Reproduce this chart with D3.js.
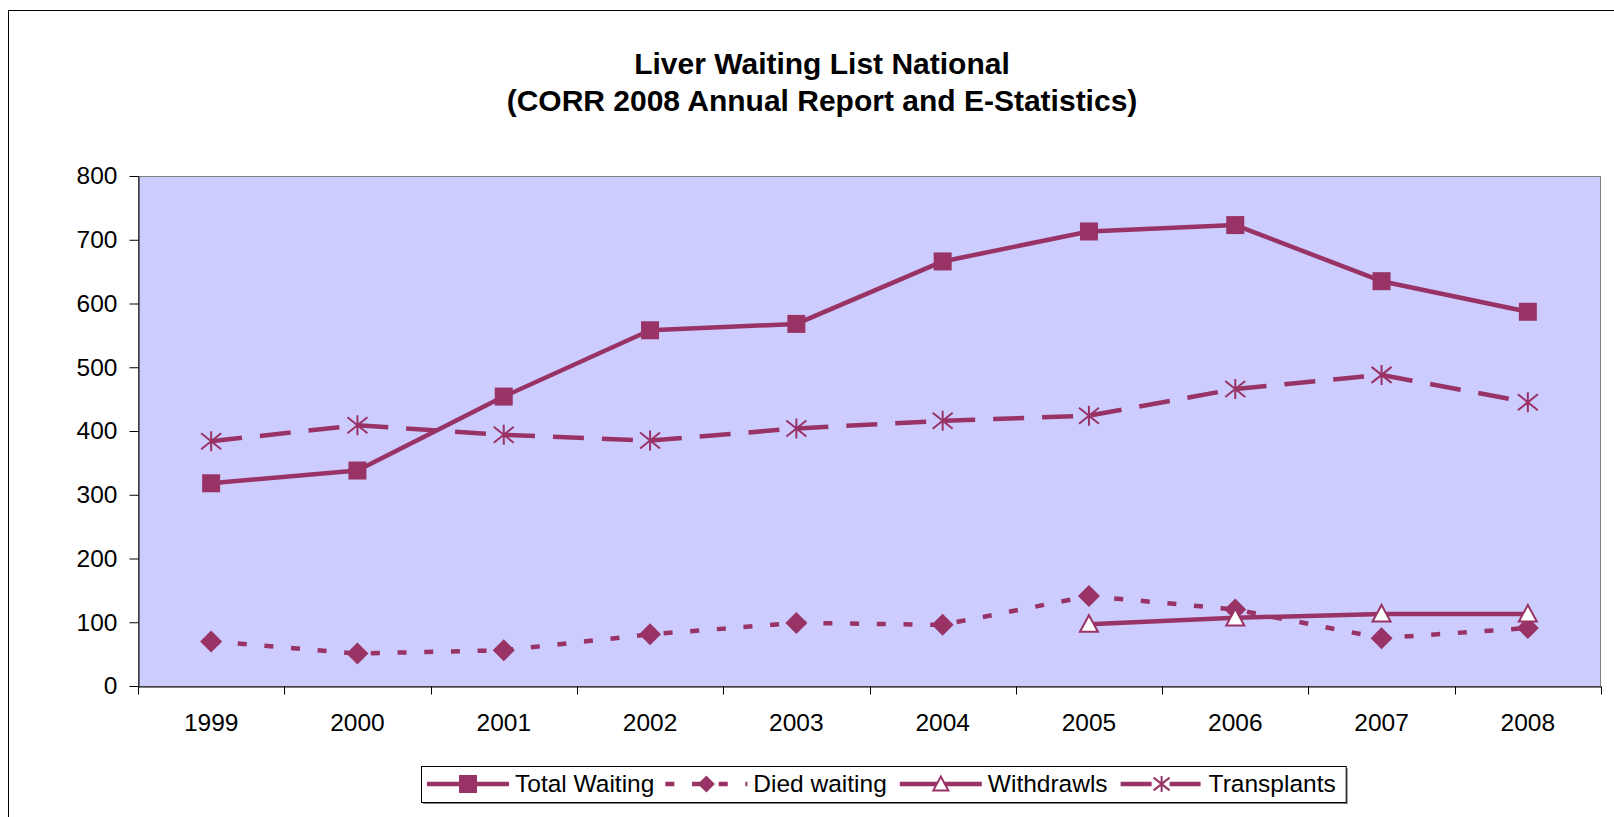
<!DOCTYPE html>
<html>
<head>
<meta charset="utf-8">
<script src="https://cdn.jsdelivr.net/npm/d3@7"></script>
<style>
  html, body { margin: 0; padding: 0; background: #fff; }
  svg { display: block; font-family: "Liberation Sans", Arial, sans-serif; }
</style>
</head>
<body>
<svg id="chart" width="1614" height="817"></svg>
<script>
const years = ["1999","2000","2001","2002","2003","2004","2005","2006","2007","2008"];
const totalWaiting = [318, 338, 454, 558, 568, 666, 713, 723, 635, 587];
const diedWaiting  = [70, 51, 56, 81, 99, 96, 141, 120, 75, 91];
const withdrawls   = [null, null, null, null, null, null, 97, 107, 113, 113];
const transplants  = [384, 409, 394, 385, 404, 416, 424, 466, 488, 445];
const yTicks = [0, 100, 200, 300, 400, 500, 600, 700, 800];
const titleLines = ["Liver Waiting List National", "(CORR 2008 Annual Report and E-Statistics)"];
const seriesNames = ["Total Waiting", "Died waiting", "Withdrawls", "Transplants"];

const COLOR = "#993366";
const svg = d3.select("#chart");

// outer chart border
svg.append("rect").attr("x", 8.5).attr("y", 10.5).attr("width", 1640).attr("height", 840)
  .attr("fill", "#fff").attr("stroke", "#000").attr("stroke-width", 1);

// title
svg.append("g").selectAll("text").data(titleLines).join("text")
  .attr("x", 822).attr("y", (d, i) => i === 0 ? 74 : 111)
  .attr("text-anchor", "middle").attr("font-weight", "bold").attr("font-size", 30)
  .attr("fill", "#000").text(d => d);

const L = 138, R = 1601, T = 176, B = 686;
const x = d3.scaleBand().domain(years).range([L, R]);
const y = d3.scaleLinear().domain([0, 800]).range([B, T]);

// plot area
svg.append("rect").attr("x", L + 0.5).attr("y", T + 0.5).attr("width", R - L - 1).attr("height", B - T)
  .attr("fill", "#CCCCFF").attr("stroke", "#808080").attr("stroke-width", 1);

// y axis
const yAxis = svg.append("g").attr("transform", `translate(${L + 0.5},0)`)
  .call(d3.axisLeft(y).tickValues(yTicks).tickSize(9).tickPadding(12).tickSizeOuter(0));
yAxis.select(".domain").attr("stroke", "#000");
yAxis.selectAll(".tick line").attr("stroke", "#000");
yAxis.selectAll(".tick text").attr("font-size", 24.5).attr("fill", "#000")
  .attr("font-family", "'Liberation Sans', Arial, sans-serif");

// x axis
const xAxis = svg.append("g").attr("transform", `translate(0,${B + 0.5})`)
  .call(d3.axisBottom(x).tickSize(0).tickPadding(0).tickSizeOuter(0));
xAxis.select(".domain").attr("stroke", "#000");
xAxis.selectAll(".tick text").attr("font-size", 24.5).attr("fill", "#000")
  .attr("font-family", "'Liberation Sans', Arial, sans-serif")
  .attr("dy", null).attr("y", 44);
// tick marks at category boundaries
const bounds = years.map(d => x(d)).concat([x(years[years.length - 1]) + x.bandwidth()]);
xAxis.append("g").selectAll("line").data(bounds).join("line")
  .attr("x1", d => Math.round(d) + 0.5).attr("x2", d => Math.round(d) + 0.5)
  .attr("y1", 0).attr("y2", 8).attr("stroke", "#000");

const cx = i => x(years[i]) + x.bandwidth() / 2;
const line = d3.line().defined(d => d != null).x((d, i) => cx(i)).y(d => y(d));

const series = [
  { name: seriesNames[0], values: totalWaiting, dash: null, marker: "square", size: 18 },
  { name: seriesNames[1], values: diedWaiting, dash: "9,17.7", marker: "diamond", size: 22 },
  { name: seriesNames[2], values: withdrawls, dash: null, marker: "triangle", size: 20 },
  { name: seriesNames[3], values: transplants, dash: "31,18", marker: "star", size: 20 }
];

const lines = svg.append("g");
series.forEach(s => {
  lines.append("path").datum(s.values).attr("d", line)
    .attr("fill", "none").attr("stroke", COLOR).attr("stroke-width", 4.5)
    .attr("stroke-dasharray", s.dash).attr("stroke-linejoin", "round");
});

function marker(g, type, px, py, s) {
  const h = s / 2;
  if (type === "square") {
    g.append("rect").attr("x", px - h).attr("y", py - h).attr("width", s).attr("height", s)
      .attr("fill", COLOR);
  } else if (type === "diamond") {
    g.append("path").attr("d", `M${px},${py - h}L${px + h},${py}L${px},${py + h}L${px - h},${py}Z`)
      .attr("fill", COLOR);
  } else if (type === "triangle") {
    const hh = h - 1;
    g.append("path").attr("d", `M${px},${py - hh}L${px + hh},${py + hh * 0.85}L${px - hh},${py + hh * 0.85}Z`)
      .attr("fill", "#fff").attr("stroke", COLOR).attr("stroke-width", 2).attr("stroke-linejoin", "miter");
  } else if (type === "star") {
    const a = h, b = h * 0.8;
    g.append("path").attr("d", `M${px},${py - a}L${px},${py + a}M${px - a},${py - b}L${px + a},${py + b}M${px - a},${py + b}L${px + a},${py - b}`)
      .attr("fill", "none").attr("stroke", COLOR).attr("stroke-width", 2);
  }
}

const marks = svg.append("g");
series.forEach(s => {
  s.values.forEach((v, i) => {
    if (v != null) marker(marks, s.marker, cx(i), y(v), s.size);
  });
});

// legend
const leg = svg.append("g");
const shadow = leg.append("rect").attr("fill", "#808080");
const box = leg.append("rect").attr("fill", "#fff").attr("stroke", "#000").attr("stroke-width", 1);
const legSizes = { square: 18, diamond: 17, triangle: 17, star: 16 };
const ly = 784;
let lx = 427;
series.forEach((s, idx) => {
  leg.append("line").attr("x1", lx).attr("x2", lx + 82).attr("y1", ly).attr("y2", ly)
    .attr("stroke", COLOR).attr("stroke-width", 4.5).attr("stroke-dasharray", s.dash);
  marker(leg, s.marker, lx + 41, ly, legSizes[s.marker]);
  const t = leg.append("text").attr("x", lx + 88).attr("y", 792).attr("font-size", 24.5)
    .attr("fill", "#000").text(s.name);
  const w = t.node().getComputedTextLength();
  lx = lx + 88 + w + (idx === 0 ? 11 : 13);
});
const boxR = lx - 13 + 10;
box.attr("x", 421.5).attr("y", 766.5).attr("width", boxR - 421).attr("height", 36);
shadow.attr("x", 423).attr("y", 768).attr("width", boxR - 421).attr("height", 36);
</script>
</body>
</html>
